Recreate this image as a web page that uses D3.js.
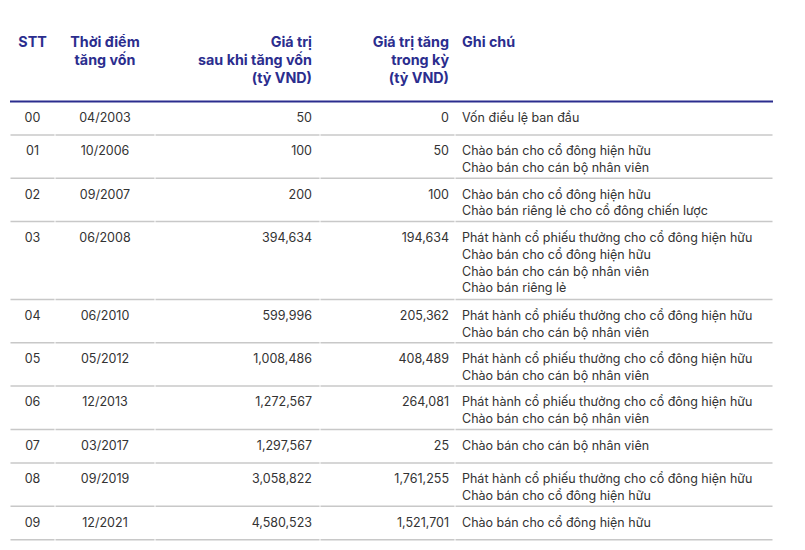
<!DOCTYPE html>
<html>
<head>
<meta charset="utf-8">
<script src="https://cdn.jsdelivr.net/npm/d3@7"></script>
<style>
  body { margin: 0; background: #fff; }
  text { font-family: Inter, "Noto Sans", sans-serif; }
</style>
</head>
<body>
<script>
var stt = ["00", "01", "02", "03", "04", "05", "06", "07", "08", "09"];
var dates = ["04/2003", "10/2006", "09/2007", "06/2008", "06/2010", "05/2012", "12/2013", "03/2017", "09/2019", "12/2021"];
var valueAfter = [50, 100, 200, 394634, 599996, 1008486, 1272567, 1297567, 3058822, 4580523];
var increase = [0, 50, 100, 194634, 205362, 408489, 264081, 25, 1761255, 1521701];
var notes = [
	["Vốn điều lệ ban đầu"],
	["Chào bán cho cổ đông hiện hữu", "Chào bán cho cán bộ nhân viên"],
	["Chào bán cho cổ đông hiện hữu", "Chào bán riêng lẻ cho cổ đông chiến lược"],
	["Phát hành cổ phiếu thưởng cho cổ đông hiện hữu", "Chào bán cho cổ đông hiện hữu", "Chào bán cho cán bộ nhân viên", "Chào bán riêng lẻ"],
	["Phát hành cổ phiếu thưởng cho cổ đông hiện hữu", "Chào bán cho cán bộ nhân viên"],
	["Phát hành cổ phiếu thưởng cho cổ đông hiện hữu", "Chào bán cho cán bộ nhân viên"],
	["Phát hành cổ phiếu thưởng cho cổ đông hiện hữu", "Chào bán cho cán bộ nhân viên"],
	["Chào bán cho cán bộ nhân viên"],
	["Phát hành cổ phiếu thưởng cho cổ đông hiện hữu", "Chào bán cho cổ đông hiện hữu"],
	["Chào bán cho cổ đông hiện hữu"]
];
var headers = [
	["STT"],
	["Thời điểm", "tăng vốn"],
	["Giá trị", "sau khi tăng vốn", "(tỷ VND)"],
	["Giá trị tăng", "trong kỳ", "(tỷ VND)"],
	["Ghi chú"]
];

var width = 805, height = 550;
var navy = "#2b2d8e", ink = "#333333";
var fmt = d3.format(",");

// column edges and text anchors
var cols = [
	{x0: 10, x1: 55, tx: 32.5, anchor: "middle"},
	{x0: 55, x1: 155, tx: 105, anchor: "middle"},
	{x0: 155, x1: 320, tx: 312, anchor: "end"},
	{x0: 320, x1: 455, tx: 449, anchor: "end"},
	{x0: 455, x1: 773, tx: 462, anchor: "start"}
];

var lineH = 16.8;
var headTop = 42, headLine = 18, ruleY = 101.5;

var rows = stt.map(function(s, i) {
	return {stt: s, date: dates[i], after: fmt(valueAfter[i]), inc: fmt(increase[i]), notes: notes[i]};
});
var y0 = ruleY;
rows.forEach(function(d) {
	var n = d.notes.length;
	d.top = y0;
	d.h = Math.max(33.5, 8.7 + 17.3 * n);
	y0 += d.h;
});

var svg = d3.select("body").append("svg")
	.attr("width", width)
	.attr("height", height);

// header
var head = svg.append("g");
headers.forEach(function(lines, c) {
	head.append("text")
		.attr("x", cols[c].tx)
		.attr("text-anchor", cols[c].anchor)
		.attr("fill", navy)
		.attr("font-size", 14.3)
		.attr("font-weight", 700)
		.selectAll("tspan")
		.data(lines)
		.enter().append("tspan")
		.attr("x", cols[c].tx)
		.attr("y", function(d, k) { return headTop + k * headLine; })
		.attr("dy", "0.35em")
		.text(function(d) { return d; });
});

// row separators (small gaps between columns)
var seps = rows.map(function(d) { return d.top + d.h; });
cols.forEach(function(c) {
	svg.selectAll(null)
		.data(seps)
		.enter().append("line")
		.attr("x1", c.x0 + 0.5)
		.attr("x2", c.x1 - 0.5)
		.attr("y1", function(d) { return d; })
		.attr("y2", function(d) { return d; })
		.attr("stroke", "#c8c8c8")
		.attr("stroke-width", 1.5);
});

svg.append("line")
	.attr("x1", 10).attr("x2", 773)
	.attr("y1", ruleY).attr("y2", ruleY)
	.attr("stroke", navy)
	.attr("stroke-width", 2);

// body
var row = svg.selectAll(".row")
	.data(rows)
	.enter().append("g")
	.attr("class", "row")
	.attr("transform", function(d) { return "translate(0," + (d.top + 16) + ")"; })
	.attr("font-size", 12.5)
	.attr("fill", ink);

var fields = ["stt", "date", "after", "inc"];
fields.forEach(function(f, c) {
	row.append("text")
		.attr("x", cols[c].tx)
		.attr("dy", "0.35em")
		.attr("text-anchor", cols[c].anchor)
		.text(function(d) { return d[f]; });
});

row.append("text")
	.attr("text-anchor", "start")
	.selectAll("tspan")
	.data(function(d) { return d.notes; })
	.enter().append("tspan")
	.attr("x", cols[4].tx)
	.attr("y", function(d, k) { return k * lineH; })
	.attr("dy", "0.35em")
	.text(function(d) { return d; });
</script>
</body>
</html>
